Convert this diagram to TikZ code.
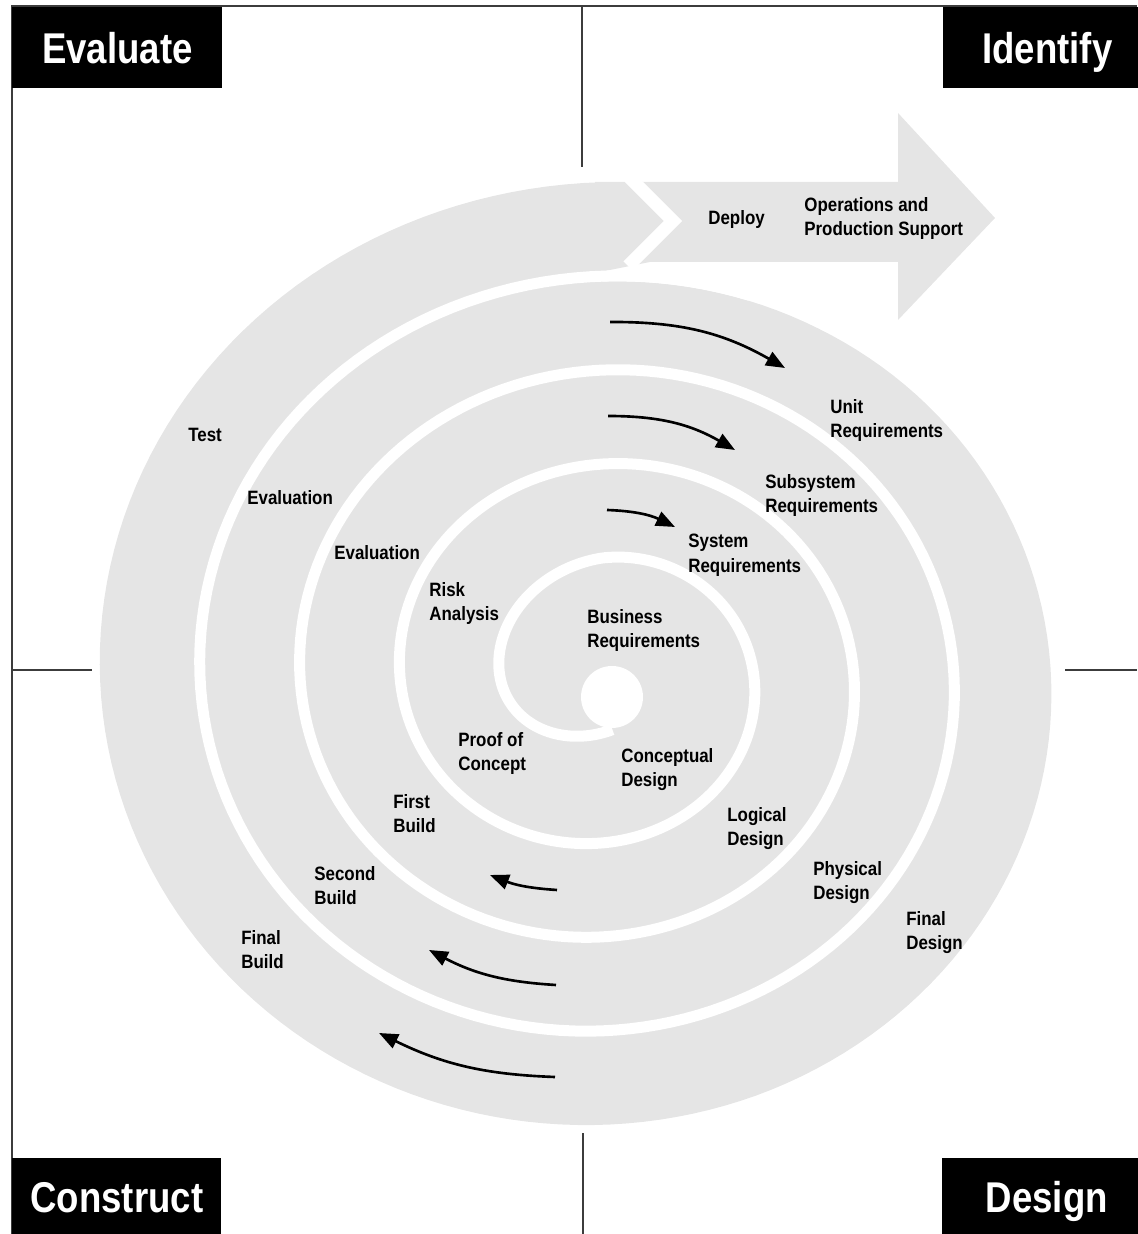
\documentclass[tikz,border=0pt]{standalone}
\usepackage{fontspec}
\newfontfamily\lblfont[FakeStretch=0.875]{Liberation Sans}
\newfontfamily\headfont[FakeStretch=0.85]{Liberation Sans}
\usetikzlibrary{arrows.meta}
\definecolor{spiralgray}{RGB}{229,229,229}
\definecolor{framegray}{RGB}{60,60,60}
\begin{document}
\begin{tikzpicture}[x=0.02cm,y=0.02cm,
  lbl/.style={font=\lblfont\bfseries\fontsize{11}{13.9}\selectfont, align=left, inner sep=0pt, anchor=north west},
  head/.style={fill=black, text=white, font=\headfont\bfseries\fontsize{24.5}{28}\selectfont, inner sep=0pt, text height=17.6pt, text depth=0pt},
  frame/.style={framegray, line width=1.1pt},
  turn/.style={-{Triangle[length=0.38cm,width=0.3cm]}, line width=1.5pt}]
\useasboundingbox (0,0) rectangle (1137,1234);
\draw[frame] (12,0) -- (12,1228) -- (1137,1228);
\draw[frame] (582,1228) -- (582,1067);
\draw[frame] (583,0) -- (583,101);
\draw[frame] (12,564) -- (92,564);
\draw[frame] (1065,564) -- (1137,564);
\fill[spiralgray] plot[domain=1260:1620, samples=180, variable=\t] ({602-(77+0.2778*\t-5.5*min(1,max(0,(1420-\t)/130)))*sin(\t)}, {557-(72+0.261*\t-5.5*min(1,max(0,(1420-\t)/130)))*cos(\t)}) -- cycle;
\fill[spiralgray] (595,1052) -- (898,1052) -- (898,1121) -- (995,1016) -- (898,914) -- (898,972) -- (650,972) -- (600,962) -- cycle;
\draw[white, line width=0.22cm] plot[domain=-8:1280, samples=600, variable=\t] ({602-(77+0.2778*\t)*sin(\t)}, {557-(72+0.261*\t-16*max(0,1-\t/180))*cos(\t)});
\fill[white] (612,537) circle[radius=0.62cm];
\draw[white, line width=0.26cm, line join=miter] (628,1058) -- (673,1013) -- (628,968);
\node[head, minimum width=4.2cm, minimum height=1.62cm, anchor=north west] (evaluate) at (12,1227) {Evaluate};
\node[head, minimum width=4.16cm, minimum height=1.62cm, anchor=north west] (identify) at (943,1227) {Identify};
\node[head, minimum width=4.18cm, minimum height=1.56cm, anchor=south west] (construct) at (12,-2) {Construct};
\node[head, minimum width=4.18cm, minimum height=1.56cm, anchor=south west] (design) at (942,-2) {Design};
\node[lbl] (deploy) at (708,1024) {Deploy};
\node[lbl] (ops) at (804,1037) {Operations and\\Production Support};
\node[lbl] (unitreq) at (830,835) {Unit\\Requirements};
\node[lbl] (subreq) at (765,760) {Subsystem\\Requirements};
\node[lbl] (sysreq) at (688,700) {System\\Requirements};
\node[lbl] (busreq) at (587,625) {Business\\Requirements};
\node[lbl] (test) at (188,806) {Test};
\node[lbl] (evalout) at (247,744) {Evaluation};
\node[lbl] (evalin) at (334,689) {Evaluation};
\node[lbl] (risk) at (429,652) {Risk\\Analysis};
\node[lbl] (proof) at (458,502) {Proof of\\Concept};
\node[lbl] (concept) at (621,486) {Conceptual\\Design};
\node[lbl] (logical) at (727,427) {Logical\\Design};
\node[lbl] (physical) at (813,373) {Physical\\Design};
\node[lbl] (finaldes) at (906,323) {Final\\Design};
\node[lbl] (firstb) at (393,440) {First\\Build};
\node[lbl] (secondb) at (314,368) {Second\\Build};
\node[lbl] (finalb) at (241,304) {Final\\Build};
\coordinate (a1s) at (610,912); \coordinate (a1e) at (785,866);
\coordinate (a2s) at (608,818); \coordinate (a2e) at (735,784);
\coordinate (a3s) at (607,724); \coordinate (a3e) at (675,707);
\coordinate (b1s) at (557,344); \coordinate (b1e) at (490,359);
\coordinate (b2s) at (556,249); \coordinate (b2e) at (429,284);
\coordinate (b3s) at (555,157); \coordinate (b3e) at (379,201);
\draw[turn] (a1s) to[bend left=15] (a1e);
\draw[turn] (a2s) to[bend left=15] (a2e);
\draw[turn] (a3s) to[bend left=12] (a3e);
\draw[turn] (b1s) to[bend left=9] (b1e);
\draw[turn] (b2s) to[bend left=12] (b2e);
\draw[turn] (b3s) to[bend left=12] (b3e);
\end{tikzpicture}
\end{document}
